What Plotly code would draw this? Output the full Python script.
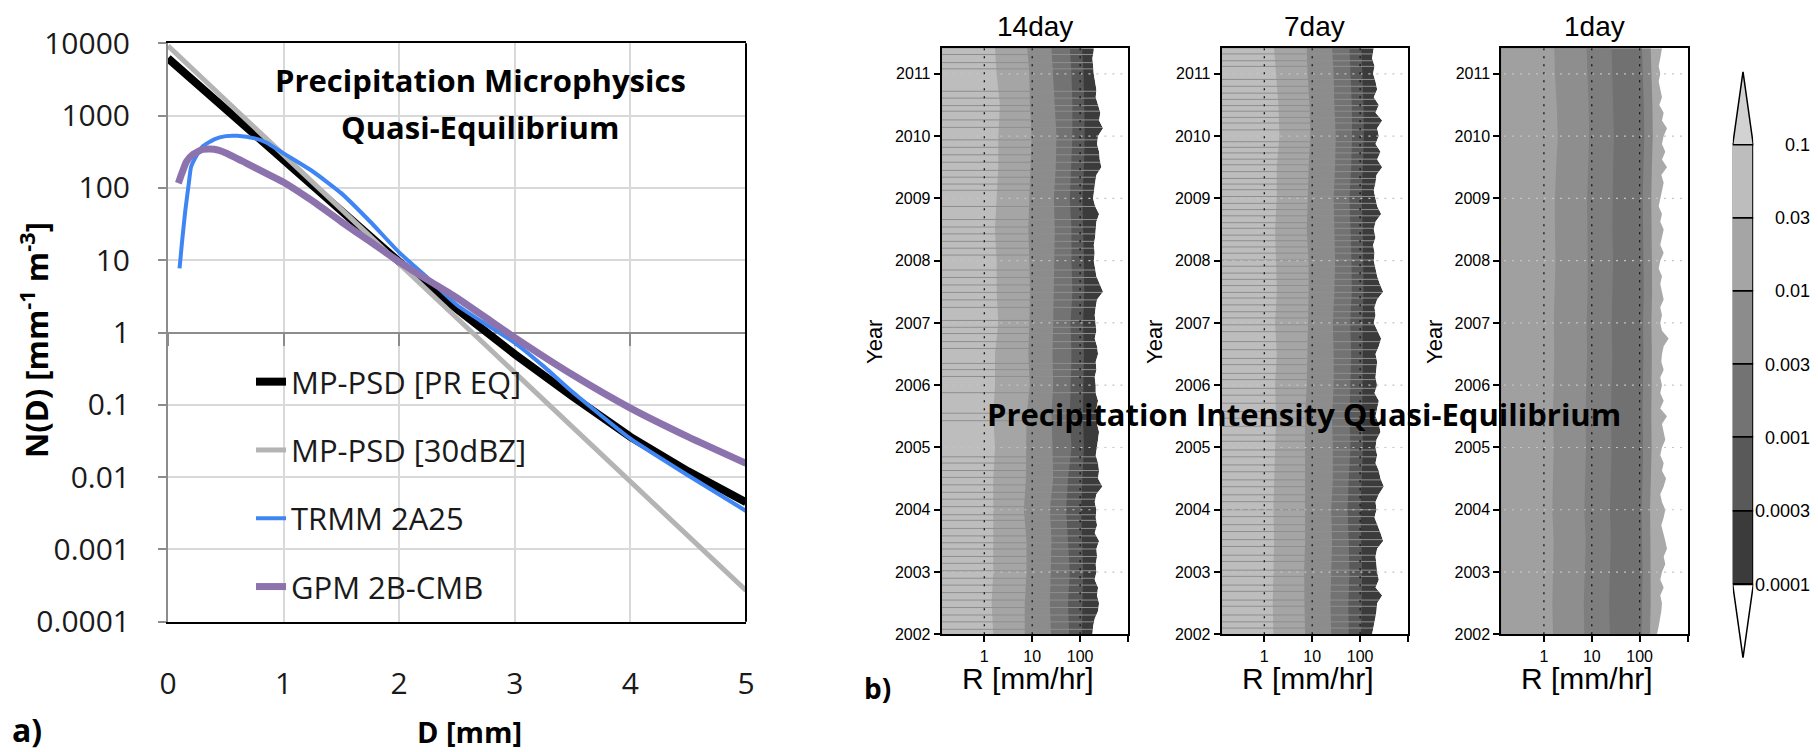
import plotly.graph_objects as go

# page body adds an 8px margin; the figure is sized so that it fills the 1818x752 window
OX, OY = 8, 8
W, H = 1818 - OX, 752 - OY

# ================= Panel a : particle size distributions =================
D_PR_EQ = [0, 0.5, 1, 1.5, 2, 2.5, 3, 3.5, 4, 4.5, 5]
N_PR_EQ = [6200, 1225, 242, 48, 9.5, 2.1, 0.5, 0.13, 0.036, 0.012, 0.0045]
D_30DBZ = [0, 0.5, 1, 1.5, 2, 2.5, 3, 3.5, 4, 4.5, 5]
N_30DBZ = [9200, 1625, 287, 50.6, 8.93, 1.57, 0.278, 0.0491, 0.00865, 0.00153, 0.00027]
D_TRMM = [0.1, 0.12, 0.15, 0.18, 0.2, 0.25, 0.3, 0.4, 0.5, 0.6, 0.75, 0.85, 1.0, 1.25,
          1.5, 1.75, 2.0, 2.25, 2.5, 2.75, 3.0, 3.25, 3.5, 4.0, 4.5, 5.0]
N_TRMM = [7.7, 17, 49, 116, 196, 285, 375, 470, 520, 525, 485, 425, 300, 170,
          84, 34, 12.8, 5.6, 2.4, 1.3, 0.72, 0.34, 0.15, 0.034, 0.0105, 0.0034]
D_GPM = [0.09, 0.12, 0.16, 0.22, 0.3, 0.4, 0.5, 0.68, 0.85, 1.0, 1.25, 1.5, 1.75,
         2.0, 2.25, 2.5, 2.75, 3.0, 3.5, 4.0, 4.5, 5.0]
N_GPM = [116, 159, 231, 294, 340, 342, 305, 219, 159, 120, 66, 34, 18,
         9.5, 5.3, 3.0, 1.6, 0.85, 0.26, 0.09, 0.036, 0.0155]
SERIES_NAMES = ["MP-PSD [PR EQ]", "MP-PSD [30dBZ]", "TRMM 2A25", "GPM 2B-CMB"]
A_XTICKS = [0, 1, 2, 3, 4, 5]
A_YTICKS = [0.0001, 0.001, 0.01, 0.1, 1, 10, 100, 1000, 10000]
A_YTICKTEXT = ["0.0001", "0.001", "0.01", "0.1", "1", "10", "100", "1000", "10000"]

# ================= Panel b : rain-rate PDF contours =================
T_HALF = [2002.0, 2002.5, 2003.0, 2003.5, 2004.0, 2004.5, 2005.0, 2005.5, 2006.0, 2006.5,
          2007.0, 2007.5, 2008.0, 2008.5, 2009.0, 2009.5, 2010.0, 2010.5, 2011.0, 2011.41]
T_EIGHTH = [2002.0, 2002.125, 2002.25, 2002.375, 2002.5, 2002.625, 2002.75, 2002.875,
            2003.0, 2003.125, 2003.25, 2003.375, 2003.5, 2003.625, 2003.75, 2003.875,
            2004.0, 2004.125, 2004.25, 2004.375, 2004.5, 2004.625, 2004.75, 2004.875,
            2005.0, 2005.125, 2005.25, 2005.375, 2005.5, 2005.625, 2005.75, 2005.875,
            2006.0, 2006.125, 2006.25, 2006.375, 2006.5, 2006.625, 2006.75, 2006.875,
            2007.0, 2007.125, 2007.25, 2007.375, 2007.5, 2007.625, 2007.75, 2007.875,
            2008.0, 2008.125, 2008.25, 2008.375, 2008.5, 2008.625, 2008.75, 2008.875,
            2009.0, 2009.125, 2009.25, 2009.375, 2009.5, 2009.625, 2009.75, 2009.875,
            2010.0, 2010.125, 2010.25, 2010.375, 2010.5, 2010.625, 2010.75, 2010.875,
            2011.0, 2011.125, 2011.25, 2011.375, 2011.41]

# 14-day accumulation: rain rate [mm/hr] where the PDF drops below each contour level
R14_B1 = [1.54, 1.42, 1.54, 1.54, 1.54, 1.54, 1.67, 1.54, 1.67, 1.67, 1.96, 1.81, 1.81, 1.67, 1.81, 1.96, 1.96, 2.12, 1.81, 1.67]
R14_B2 = [7.0, 7.0, 7.6, 7.6, 6.7, 7.4, 7.6, 7.6, 8.9, 8.3, 8.7, 8.95, 8.7, 8.3, 8.7, 9.2, 9.7, 8.95, 8.7, 7.9]
R14_B3 = [24.7, 23.4, 24.2, 25.3, 23.4, 27.4, 26.5, 25.3, 27.4, 26.5, 27.4, 28.3, 29.6, 29.6, 28.3, 31, 32.1, 29.6, 27.4, 25.3]
R14_B4 = [59, 56, 61, 56, 51, 56, 66, 61, 63, 66, 63, 69, 66, 66, 61, 66, 69, 69, 66, 61]
R14_B5 = [110, 112, 116, 110, 105, 112, 120, 115, 118, 120, 116, 122, 120, 118, 112, 120, 125, 122, 118, 110]
R14_B6 = [181, 187, 202, 237, 249, 226, 237, 202,
          219, 212, 226, 219, 249, 202, 226, 212,
          219, 202, 219, 292, 237, 249, 237, 212,
          226, 237, 249, 226, 237, 219, 237, 212,
          212, 202, 219, 212, 237, 226, 202, 219,
          212, 202, 212, 226, 301, 257, 219, 206,
          193, 202, 193, 206, 212, 219, 249, 206,
          187, 193, 206, 219, 278, 257, 249, 226,
          237, 301, 249, 265, 237, 212, 219, 202,
          193, 187, 181, 193, 193]
STRIPES_14 = [2011.31, 2011.18, 2011.08, 2010.72, 2010.61, 2010.49, 2010.40, 2010.26, 2010.14,
              2009.94, 2009.82, 2009.70, 2009.58, 2009.45, 2009.34, 2009.23, 2009.13, 2008.87,
              2008.66, 2008.54, 2008.43, 2008.31, 2008.20, 2008.09, 2007.85, 2007.73, 2007.61,
              2007.49, 2007.37, 2007.25, 2007.04, 2006.93, 2006.83, 2006.70, 2006.59, 2006.35,
              2006.25, 2006.14, 2005.88, 2005.55, 2005.43, 2004.85, 2004.75, 2004.63, 2004.52,
              2004.40, 2004.28, 2004.17, 2004.05, 2003.92, 2003.83, 2003.70, 2003.58, 2003.47,
              2003.37, 2003.25, 2003.14, 2003.02, 2002.90, 2002.79, 2002.67, 2002.55, 2002.43,
              2002.31, 2002.20, 2002.08]

# 7-day accumulation
R7_B1 = [1.55, 1.50, 1.55, 1.60, 1.55, 1.60, 1.68, 1.76, 1.68, 1.82, 1.68, 1.82, 1.76, 1.68, 1.82, 1.82, 2.07, 1.97, 1.76, 1.60]
R7_B2 = [7.1, 6.9, 6.8, 7.1, 7.1, 6.9, 7.1, 7.1, 7.7, 8.0, 8.1, 8.4, 8.4, 7.7, 8.1, 8.4, 9.1, 8.8, 8.0, 7.7]
R7_B3 = [25, 24, 25, 26, 25, 27, 27, 26, 28, 28, 27, 29, 30, 29, 28, 30, 31, 29, 28, 26]
R7_B4 = [58, 57, 60, 58, 55, 58, 63, 60, 62, 65, 62, 67, 66, 64, 60, 65, 68, 67, 63, 60]
R7_B5 = [105, 108, 110, 106, 102, 108, 115, 110, 112, 115, 112, 118, 116, 114, 108, 115, 120, 118, 112, 106]
R7_B6 = [178, 193, 210, 220, 227, 289, 210, 246,
         227, 220, 210, 227, 303, 267, 227, 200,
         220, 210, 246, 313, 267, 246, 210, 227,
         210, 220, 267, 246, 210, 227, 246, 200,
         227, 210, 220, 227, 210, 246, 275, 227,
         193, 210, 200, 227, 303, 258, 227, 210,
         193, 200, 187, 210, 193, 210, 275, 227,
         210, 193, 210, 220, 289, 227, 267, 210,
         246, 227, 289, 210, 246, 193, 227, 210,
         187, 200, 178, 193, 193]
STRIPES_7 = [2011.32, 2011.21, 2011.12, 2010.91, 2010.80, 2010.69, 2010.59, 2010.49, 2010.40,
             2010.30, 2010.21, 2010.10, 2009.91, 2009.82, 2009.73, 2009.63, 2009.54, 2009.43,
             2009.32, 2009.23, 2009.14, 2009.03, 2008.92, 2008.82, 2008.72, 2008.61, 2008.52,
             2008.41, 2008.32, 2008.22, 2008.12, 2008.01, 2007.91, 2007.80, 2007.70, 2007.60,
             2007.49, 2007.40, 2007.29, 2007.18, 2007.08, 2006.97, 2006.86, 2006.70, 2006.57,
             2006.43, 2006.33, 2006.19, 2006.09, 2005.95, 2005.84, 2005.71, 2005.58, 2005.47,
             2005.34, 2005.20, 2005.10, 2004.96, 2004.85, 2004.72, 2004.61, 2004.48, 2004.37,
             2004.24, 2004.13, 2004.00, 2003.89, 2003.76, 2003.65, 2003.52, 2003.41, 2003.27,
             2003.17, 2003.03, 2002.93, 2002.79, 2002.69, 2002.55, 2002.45, 2002.31, 2002.20,
             2002.10]

# 1-day accumulation
R1_B1 = [1.55, 1.5, 1.55, 1.6, 1.5, 1.55, 1.6, 1.55, 1.6, 1.65, 1.6, 1.7, 1.75, 1.7, 1.7, 1.8, 1.95, 1.85, 1.7, 1.65]
R1_B2 = [7.0, 6.8, 7.2, 7.5, 7.0, 7.3, 7.6, 7.4, 7.8, 8.0, 7.8, 8.2, 8.2, 8.0, 8.0, 8.4, 8.8, 8.6, 8.2, 7.8]
R1_B3 = [24, 23, 24, 25, 24, 25, 26, 25, 26, 27, 26, 27, 28, 27, 27, 28, 29, 28, 27, 26]
R1_B4 = [110, 112, 115, 112, 110, 115, 118, 115, 118, 120, 118, 122, 120, 118, 116, 120, 125, 122, 118, 112]
R1_B5 = [165, 170, 172, 168, 165, 172, 178, 175, 178, 180, 176, 182, 180, 178, 175, 180, 188, 185, 178, 170]
R1_B6 = [230, 250, 270, 284, 293, 270, 318, 270,
         293, 344, 318, 373, 344, 318, 284, 318,
         344, 293, 270, 318, 356, 293, 318, 270,
         293, 344, 318, 293, 373, 270, 318, 270,
         293, 270, 318, 284, 293, 318, 404, 293,
         270, 293, 270, 318, 293, 270, 293, 250,
         270, 318, 270, 293, 318, 270, 293, 250,
         270, 293, 318, 284, 373, 293, 344, 293,
         318, 373, 293, 318, 258, 293, 270, 250,
         270, 250, 270, 293, 293]

PANEL_TITLES = ["14day", "7day", "1day"]
B_YTICKS = [2002, 2003, 2004, 2005, 2006, 2007, 2008, 2009, 2010, 2011]
B_XTICKS = [1, 10, 100]
B_XEDGE_TICKS = [1000]
B_GRID_R = [1, 10, 100]
B_GRID_YEARS = [2003, 2004, 2005, 2006, 2007, 2008, 2009, 2010, 2011]

CB_LEVELS = ["0.0001", "0.0003", "0.001", "0.003", "0.01", "0.03", "0.1"]
CB_COLORS = ["#3b3b3b", "#595959", "#737373", "#8c8c8c", "#a5a5a5", "#bdbdbd"]
CB_TOP_COLOR = "#d2d2d2"

GRAYS_MULTI = ["#bdbdbd", "#a5a5a5", "#8c8c8c", "#737373", "#595959", "#3b3b3b"]
GRAYS_DAILY = ["#a0a0a0", "#8e8e8e", "#7e7e7e", "#717171", "#858585", "#a9a9a9"]

# ================= layout geometry (window pixels) =================
def px(x):
    return (x - OX) / W


def py(y):
    return 1 - (y - OY) / H


CAL = "Open Sans, Noto Sans, sans-serif"
GRADS = "Liberation Sans, Arial, sans-serif"

A_DOM_X = [px(168), px(746)]
A_DOM_Y = [py(621.7), py(43.3)]
B_DOM_X = [[px(941.7), px(1128.0)], [px(1221.7), px(1408.0)], [px(1501.3), px(1687.5)]]
B_DOM_Y = [py(634.3), py(48.3)]
CB_DOM_X = [px(1732.7), px(1753.3)]
CB_DOM_Y = [py(657.8), py(71.6)]
B_XRANGE = [-0.89, 3.0]
B_YRANGE = [2002, 2011.41]

fig = go.Figure()

# ---------- panel a traces ----------
a_series = [
    (D_PR_EQ, N_PR_EQ, "#000000", 8, "linear"),
    (D_30DBZ, N_30DBZ, "#b4b4b4", 5, "linear"),
    (D_TRMM, N_TRMM, "#3f86f4", 4, "spline"),
    (D_GPM, N_GPM, "#8d73ae", 7, "spline"),
]
for i, (d, n, c, w, shp) in enumerate(a_series):
    fig.add_trace(go.Scatter(
        x=d, y=n, mode="lines", name=SERIES_NAMES[i],
        line=dict(color=c, width=w, shape=shp, smoothing=0.5 if shp == "spline" else None),
        xaxis="x", yaxis="y", legendgroup=f"g{i}", hoverinfo="skip"))

# helper trace for the y=1 crossing axis
fig.add_trace(go.Scatter(x=[A_XTICKS[0], A_XTICKS[-1]], y=[1, 1], mode="lines",
                         line=dict(width=0), xaxis="x6", yaxis="y",
                         showlegend=False, hoverinfo="skip"))

# ---------- panel b traces ----------
panels = [
    dict(bounds=[(R14_B1, T_HALF), (R14_B2, T_HALF), (R14_B3, T_HALF), (R14_B4, T_HALF),
                 (R14_B5, T_HALF), (R14_B6, T_EIGHTH)], grays=GRAYS_MULTI, stripes=STRIPES_14),
    dict(bounds=[(R7_B1, T_HALF), (R7_B2, T_HALF), (R7_B3, T_HALF), (R7_B4, T_HALF),
                 (R7_B5, T_HALF), (R7_B6, T_EIGHTH)], grays=GRAYS_MULTI, stripes=STRIPES_7),
    dict(bounds=[(R1_B1, T_HALF), (R1_B2, T_HALF), (R1_B3, T_HALF), (R1_B4, T_HALF),
                 (R1_B5, T_HALF), (R1_B6, T_EIGHTH)], grays=GRAYS_DAILY, stripes=[]),
]
R_LEFT, R_RIGHT = 0.1, 2000.0
for p_i, p in enumerate(panels):
    xa, ya = f"x{p_i + 2}", f"y{p_i + 2}"
    for k in range(len(p["bounds"]) - 1, -1, -1):
        r, t = p["bounds"][k]
        fig.add_trace(go.Scatter(
            x=[R_LEFT] + list(r) + [R_LEFT], y=[t[0]] + list(t) + [t[-1]],
            mode="lines", fill="toself", fillcolor=p["grays"][k],
            line=dict(width=0, color=p["grays"][k]),
            xaxis=xa, yaxis=ya, showlegend=False, hoverinfo="skip"))
    if p["stripes"]:
        sx, sy = [], []
        for s in p["stripes"]:
            sx += [R_LEFT, R_RIGHT, None]
            sy += [s, s, None]
        fig.add_trace(go.Scatter(x=sx, y=sy, mode="lines",
                                 line=dict(color="#8f8f8f", width=1),
                                 xaxis=xa, yaxis=ya, showlegend=False, hoverinfo="skip"))
        r, t = p["bounds"][-1]
        fig.add_trace(go.Scatter(
            x=list(r) + [R_RIGHT, R_RIGHT], y=list(t) + [t[-1], t[0]],
            mode="lines", fill="toself", fillcolor="white", line=dict(width=0, color="white"),
            xaxis=xa, yaxis=ya, showlegend=False, hoverinfo="skip"))
    gx, gy = [], []
    for yr in B_GRID_YEARS:
        gx += [R_LEFT, R_RIGHT, None]
        gy += [yr, yr, None]
    fig.add_trace(go.Scatter(x=gx, y=gy, mode="lines",
                             line=dict(color="#c4c4c4", width=1.2, dash="2px,6px"),
                             xaxis=xa, yaxis=ya, showlegend=False, hoverinfo="skip"))
    vx, vy = [], []
    for rr in B_GRID_R:
        vx += [rr, rr, None]
        vy += [B_YRANGE[0], B_YRANGE[1], None]
    fig.add_trace(go.Scatter(x=vx, y=vy, mode="lines",
                             line=dict(color="#111111", width=1.3, dash="2px,6px"),
                             xaxis=xa, yaxis=ya, showlegend=False, hoverinfo="skip"))

# ---------- colour bar ----------
n_box = len(CB_COLORS)
fig.add_trace(go.Bar(x=[0.5] * n_box, y=[1] * n_box, base=list(range(n_box)), width=1,
                     marker=dict(color=CB_COLORS, line=dict(color="black", width=1.5)),
                     xaxis="x5", yaxis="y5", showlegend=False, hoverinfo="skip"))
fig.add_trace(go.Scatter(x=[0, 1, 0.5, 0], y=[n_box, n_box, n_box + 1, n_box], mode="lines",
                         fill="toself", fillcolor=CB_TOP_COLOR, line=dict(color="black", width=1.5),
                         xaxis="x5", yaxis="y5", showlegend=False, hoverinfo="skip"))
fig.add_trace(go.Scatter(x=[0, 1, 0.5, 0], y=[0, 0, -1, 0], mode="lines",
                         fill="toself", fillcolor="white", line=dict(color="black", width=1.5),
                         xaxis="x5", yaxis="y5", showlegend=False, hoverinfo="skip"))

# ---------- axes ----------
layout = dict(
    width=W, height=H, margin=dict(l=0, r=0, t=0, b=0, pad=0, autoexpand=False),
    paper_bgcolor="white", plot_bgcolor="white", hovermode=False, bargap=0,
    showlegend=True,
    legend=dict(x=px(251), y=py(355), xanchor="left", yanchor="top",
                bgcolor="rgba(0,0,0,0)", traceorder="grouped", tracegroupgap=25,
                font=dict(family=CAL, size=31, color="#1a1a1a")),
    xaxis=dict(domain=A_DOM_X, anchor="y", range=[0, 5], tickvals=A_XTICKS, automargin=False,
               showgrid=True, gridcolor="#d9d9d9", gridwidth=2, zeroline=False,
               showline=True, linecolor="black", linewidth=2, mirror=True, ticks="",
               ticklabelstandoff=34, tickfont=dict(family=CAL, size=30, color="#1a1a1a")),
    yaxis=dict(domain=A_DOM_Y, anchor="x", type="log", range=[-4, 4], automargin=False,
               tickvals=A_YTICKS, ticktext=A_YTICKTEXT,
               showgrid=True, gridcolor="#d9d9d9", gridwidth=2, zeroline=False,
               showline=True, linecolor="#8c8c8c", linewidth=2,
               ticks="outside", ticklen=8, tickwidth=2, tickcolor="#8c8c8c",
               ticklabelstandoff=22, tickfont=dict(family=CAL, size=30, color="#1a1a1a")),
    xaxis6=dict(overlaying="x", anchor="free", automargin=False,
                position=A_DOM_Y[0] + 0.5 * (A_DOM_Y[1] - A_DOM_Y[0]),
                range=[0, 5], tickvals=A_XTICKS, showticklabels=False, showgrid=False,
                zeroline=False, showline=True, linecolor="#8c8c8c", linewidth=2,
                ticks="outside", ticklen=12, tickwidth=2, tickcolor="#8c8c8c",
                layer="below traces"),
    xaxis5=dict(domain=CB_DOM_X, anchor="y5", range=[0, 1], visible=False, fixedrange=True, automargin=False),
    yaxis5=dict(domain=CB_DOM_Y, anchor="x5", range=[-1, n_box + 1], visible=False, fixedrange=True, automargin=False),
)
for p_i in range(3):
    n = p_i + 2
    layout[f"xaxis{n}"] = dict(
        domain=B_DOM_X[p_i], anchor=f"y{n}", type="log", range=B_XRANGE, automargin=False,
        tickmode="array", tickvals=B_XTICKS, ticktext=[str(v) for v in B_XTICKS],
        ticks="outside", ticklen=6, tickwidth=1.5, tickcolor="black",
        minor=dict(tickmode="array", tickvals=B_XEDGE_TICKS, ticks="outside", ticklen=6,
                   tickwidth=1.5, tickcolor="black", showgrid=False),
        showline=True, linecolor="black", linewidth=2, mirror=True,
        showgrid=False, zeroline=False, tickfont=dict(family=GRADS, size=16, color="black"))
    layout[f"yaxis{n}"] = dict(
        domain=B_DOM_Y, anchor=f"x{n}", range=B_YRANGE, tickvals=B_YTICKS, automargin=False,
        ticks="outside", ticklen=6, tickwidth=1.5, tickcolor="black",
        showline=True, linecolor="black", linewidth=2, mirror=True,
        showgrid=False, zeroline=False, tickfont=dict(family=GRADS, size=16, color="black"))
fig.update_layout(**layout)

fig.add_shape(type="line", xref="x domain", yref="y domain", x0=1, x1=1, y0=0, y1=1,
              line=dict(color="black", width=2))

# ---------- texts ----------
ann = []
def add_text(x, y, text, size, family, bold=False, angle=0, xanchor="center", color="black", yref="paper", xref="paper"):
    ann.append(dict(x=x, y=y, xref=xref, yref=yref, text=f"<b>{text}</b>" if bold else text,
                    showarrow=False, xanchor=xanchor, yanchor="middle", textangle=angle,
                    font=dict(family=family, size=size, color=color)))

add_text(px(480), py(80), "Precipitation Microphysics", 31, CAL, bold=True)
add_text(px(480), py(127), "Quasi-Equilibrium", 31, CAL, bold=True)
add_text(px(34), py(340), "N(D) [mm<sup>-1</sup> m<sup>-3</sup>]", 31, CAL, bold=True, angle=-90)
add_text(px(470), py(731), "D [mm]", 29, CAL, bold=True)
add_text(px(27), py(729), "a)", 32, CAL, bold=True)
add_text(px(877), py(688), "b)", 28, CAL, bold=True)

for p_i in range(3):
    cx = (B_DOM_X[p_i][0] + B_DOM_X[p_i][1]) / 2
    add_text(cx, py(27), PANEL_TITLES[p_i], 28, GRADS)
    add_text(cx - px(7) + px(0), py(678), "R [mm/hr]", 30, GRADS)
    add_text(px(874 + 280 * p_i), py(342), "Year", 22, GRADS, angle=-90)

for i, lab in enumerate(CB_LEVELS):
    add_text(px(1812), i, lab, 18, GRADS, xanchor="right", yref="y5")

add_text(px(1304), py(414), "Precipitation Intensity Quasi-Equilibrium", 31, CAL, bold=True)

fig.update_layout(annotations=ann)
fig.write_html("out.html")
